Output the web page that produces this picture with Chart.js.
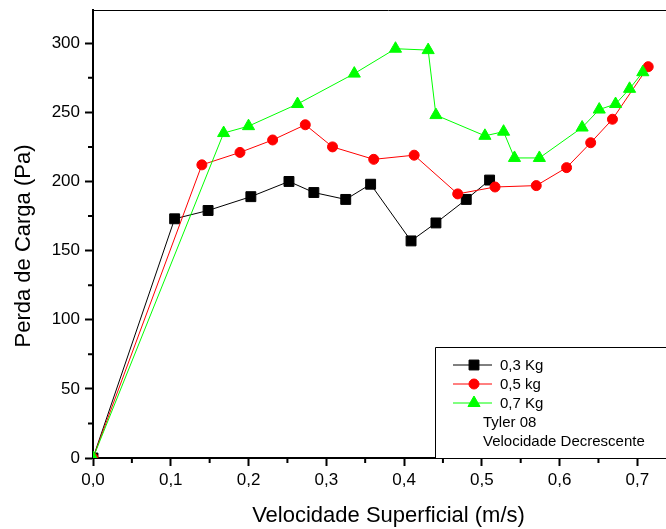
<!DOCTYPE html>
<html>
<head>
<meta charset="utf-8">
<script src="https://cdn.jsdelivr.net/npm/chart.js@4.4.1/dist/chart.umd.min.js"></script>
<style>
  html, body { margin: 0; padding: 0; background: #fff; overflow: hidden; }
  canvas { display: block; }
</style>
</head>
<body>
<canvas id="chart" width="700" height="529"></canvas>
<script>
// Series labels and notes
const seriesLabels = ['0,3 Kg', '0,5 kg', '0,7 Kg'];
const legendNotes = ['Tyler 08', 'Velocidade Decrescente'];
const xTitle = 'Velocidade Superficial (m/s)';
const yTitle = 'Perda de Carga (Pa)';

// 0,3 Kg
const vel03  = [0, 0.105, 0.148, 0.203, 0.252, 0.284, 0.325, 0.357, 0.409, 0.441, 0.480, 0.510];
const loss03 = [0, 173,   179,   189,   200,   192,   187,   198,   157,   170,   187,   201];

// 0,5 kg
const vel05  = [0, 0.140, 0.189, 0.231, 0.273, 0.308, 0.361, 0.413, 0.469, 0.517, 0.570, 0.609, 0.640, 0.668, 0.714];
const loss05 = [0, 212,   221,   230,   241,   225,   216,   219,   191,   196,   197,   210,   228,   245,   283];

// 0,7 Kg
const vel07  = [0, 0.168, 0.200, 0.263, 0.336, 0.389, 0.431, 0.441, 0.504, 0.528, 0.542, 0.574, 0.629, 0.651, 0.672, 0.690, 0.707];
const loss07 = [0, 235,   240,   256,   278,   296,   295,   248,   233,   236,   217,   217,   239,   252,   256,   267,   279];

// Axis ranges and tick steps
const xMin = 0, xMax = 0.76, xStep = 0.1, xMinorStep = 0.05;
const yMin = 0, yMax = 324, yStep = 50, yMinorStep = 25;

const FONT = "Arial, 'Liberation Sans', sans-serif";

function toPoints(xs, ys) {
  return xs.map((x, i) => ({ x: x, y: ys[i] }));
}

const seriesStyles = [
  { color: '#000000', pointStyle: 'rect',     radius: 7 },
  { color: '#ff0000', pointStyle: 'circle',   radius: 5 },
  { color: '#00ff00', pointStyle: 'triangle', radius: 7 }
];

const seriesData = [toPoints(vel03, loss03), toPoints(vel05, loss05), toPoints(vel07, loss07)];

const datasets = seriesData.map((pts, i) => ({
  label: seriesLabels[i],
  data: pts,
  borderColor: seriesStyles[i].color,
  backgroundColor: seriesStyles[i].color,
  pointBackgroundColor: seriesStyles[i].color,
  pointBorderColor: seriesStyles[i].color,
  pointStyle: seriesStyles[i].pointStyle,
  pointRadius: seriesStyles[i].radius,
  pointBorderWidth: 1,
  borderWidth: 1,
  tension: 0,
  order: 2 - i
}));

function drawMarker(ctx, style, x, y) {
  Chart.helpers.drawPoint(ctx, {
    pointStyle: style.pointStyle,
    radius: style.radius,
    rotation: 0,
    borderWidth: 1
  }, x, y);
}

// Frame, minor ticks, vertical axis title and the boxed legend
const decorations = {
  id: 'decorations',
  afterDatasetsDraw(chart) {
    const ctx = chart.ctx;
    const area = chart.chartArea;
    const xs = chart.scales.x, ys = chart.scales.y;
    ctx.save();

    // top and right frame lines
    ctx.strokeStyle = '#000';
    ctx.lineWidth = 1;
    ctx.beginPath();
    ctx.moveTo(area.left, area.top + 0.5);
    ctx.lineTo(area.right, area.top + 0.5);
    ctx.lineTo(area.right, area.bottom);
    ctx.stroke();

    // minor ticks
    ctx.lineWidth = 2;
    ctx.beginPath();
    for (let v = yMin + yMinorStep; v < yMax; v += yStep) {
      const py = ys.getPixelForValue(v);
      ctx.moveTo(area.left - 5, py);
      ctx.lineTo(area.left, py);
    }
    for (let v = xMin + xMinorStep; v < xMax; v += xStep) {
      const px = xs.getPixelForValue(v);
      ctx.moveTo(px, area.bottom);
      ctx.lineTo(px, area.bottom + 5);
    }
    ctx.stroke();

    // vertical axis title
    ctx.fillStyle = '#000';
    ctx.font = '22px ' + FONT;
    ctx.textAlign = 'center';
    ctx.textBaseline = 'middle';
    ctx.save();
    ctx.translate(24, 246);
    ctx.rotate(-Math.PI / 2);
    ctx.fillText(yTitle, 0, 0);
    ctx.restore();

    // legend box
    const boxLeft = 435, boxTop = 347;
    ctx.fillStyle = '#fff';
    ctx.fillRect(boxLeft, boxTop, chart.width - boxLeft + 5, area.bottom - boxTop);
    ctx.strokeStyle = '#000';
    ctx.lineWidth = 1;
    ctx.beginPath();
    ctx.moveTo(boxLeft + 0.5, area.bottom);
    ctx.lineTo(boxLeft + 0.5, boxTop + 0.5);
    ctx.lineTo(chart.width + 5, boxTop + 0.5);
    ctx.stroke();

    const rowY = [365, 384, 403, 422.5, 441.5];
    ctx.font = '15px ' + FONT;
    ctx.textAlign = 'left';
    ctx.textBaseline = 'middle';
    seriesLabels.forEach((label, i) => {
      const st = seriesStyles[i];
      const y = rowY[i];
      ctx.strokeStyle = st.color;
      ctx.lineWidth = 1;
      ctx.beginPath();
      ctx.moveTo(453, y);
      ctx.lineTo(492, y);
      ctx.stroke();
      ctx.fillStyle = st.color;
      ctx.strokeStyle = st.color;
      drawMarker(ctx, st, 474, y);
      ctx.fillStyle = '#000';
      ctx.fillText(label, 500, y + 0.5);
    });
    legendNotes.forEach((note, j) => {
      ctx.fillStyle = '#000';
      ctx.fillText(note, 483, rowY[3 + j] + 0.5);
    });

    ctx.restore();
  }
};

new Chart(document.getElementById('chart'), {
  type: 'line',
  data: { datasets: datasets },
  options: {
    responsive: false,
    animation: false,
    devicePixelRatio: 1,
    layout: { padding: { top: 10, right: 16, left: 0, bottom: 0 } },
    plugins: {
      legend: { display: false },
      tooltip: { enabled: false }
    },
    scales: {
      x: {
        type: 'linear',
        min: xMin,
        max: xMax,
        ticks: {
          stepSize: xStep,
          includeBounds: false,
          maxRotation: 0,
          padding: 4,
          color: '#000',
          font: { family: FONT, size: 17 },
          callback: (v) => v.toFixed(1).replace('.', ',')
        },
        grid: {
          display: true,
          drawOnChartArea: false,
          drawTicks: true,
          tickLength: 8,
          tickColor: '#000',
          tickWidth: 2
        },
        border: { display: true, color: '#000', width: 2 },
        title: {
          display: true,
          text: xTitle,
          color: '#000',
          font: { family: FONT, size: 22 },
          padding: { top: 0, bottom: 0 }
        },
        afterFit(s) { s.height = 71; s.paddingLeft = 0; s.paddingRight = 0; }
      },
      y: {
        type: 'linear',
        min: yMin,
        max: yMax,
        ticks: {
          stepSize: yStep,
          includeBounds: false,
          padding: 5,
          color: '#000',
          font: { family: FONT, size: 17 }
        },
        grid: {
          display: true,
          drawOnChartArea: false,
          drawTicks: true,
          tickLength: 8,
          tickColor: '#000',
          tickWidth: 2
        },
        border: { display: true, color: '#000', width: 2 },
        afterFit(s) { s.width = 93; s.paddingTop = 0; s.paddingBottom = 0; }
      }
    }
  },
  plugins: [decorations]
});
</script>
</body>
</html>
